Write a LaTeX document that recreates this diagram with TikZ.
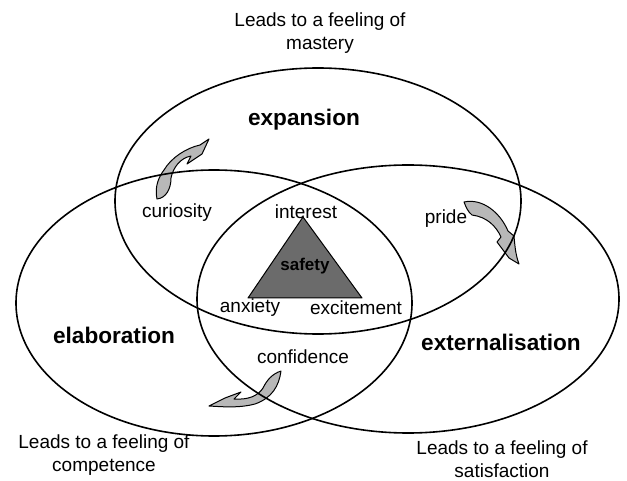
\documentclass[tikz,border=0pt]{standalone}
\usepackage{fontspec}
\setmainfont{Liberation Sans}
\usetikzlibrary{shapes.geometric}
\begin{document}
\begin{tikzpicture}[x=1pt,y=-1pt,
  ring/.style={draw=black,line width=1.6pt,ellipse,inner sep=0pt},
  lbl/.style={font=\fontsize{19}{23}\selectfont,inner sep=0pt,align=center},
  area/.style={font=\fontsize{22.6}{26}\selectfont\bfseries,inner sep=0pt},
  turnarrow/.style={draw=black,line width=1pt,fill=black!28,line join=round},
  core/.style={draw=black,line width=1pt,fill=black!58,line join=round}]
\useasboundingbox (0,0) rectangle (627,481);

% curved arrows between the three areas
\path[turnarrow] (157,199) .. controls (154,186) and (160,175) .. (164,170)
  .. controls (171,158) and (186,148) .. (200,145) -- (209,139) -- (202,154)
  -- (187,164) -- (191,156) .. controls (180,158) and (173,168) .. (171,178)
  .. controls (171,189) and (166,198) .. (157,199) -- cycle;
\path[turnarrow] (464,202) .. controls (482,198) and (500,212) .. (508,231)
  -- (514,236) .. controls (515,248) and (516,256) .. (519,264)
  -- (509,258) -- (497,242) -- (501,237)
  .. controls (496,226) and (487,217) .. (472,215)
  .. controls (468,212) and (466,207) .. (464,202) -- cycle;
\path[turnarrow] (281,371) .. controls (279,386) and (272,398) .. (255,404)
  .. controls (240,408) and (225,407) .. (209,406) -- (225,398) -- (241,392)
  -- (234,399) .. controls (248,400) and (258,396) .. (263,388)
  .. controls (267,380) and (272,374) .. (281,371) -- cycle;

% the three overlapping areas
\node[ring,minimum width=406pt,minimum height=266pt] (expE) at (318,201) {};
\node[ring,minimum width=396pt,minimum height=266pt] (elaE) at (214,303) {};
\node[ring,minimum width=422pt,minimum height=268pt] (extE) at (408,299) {};

% central triangle
\coordinate (tTop) at (303,217);
\coordinate (tLeft) at (248,298);
\coordinate (tRight) at (362,298);
\path[core] (tTop) -- (tLeft) -- (tRight) -- cycle;
\node[font=\fontsize{17}{20}\selectfont\bfseries,inner sep=0pt] (safety) at (305,266) {safety};

% labels
\node[lbl] (mastery) at (320,33) {Leads to a feeling of\\mastery};
\node[lbl] (competence) at (104,455) {Leads to a feeling of\\competence};
\node[lbl] (satisfaction) at (502,459) {Leads to a feeling of\\satisfaction};
\node[area] (expansion) at (304,120) {expansion};
\node[area] (elaboration) at (114,335) {elaboration};
\node[area] (externalisation) at (501,342) {externalisation};
\node[lbl] (curiosity) at (177,213) {curiosity};
\node[lbl] (interest) at (306,212) {interest};
\node[lbl] (pride) at (446,219) {pride};
\node[lbl] (anxiety) at (250,308) {anxiety};
\node[lbl] (excitement) at (356,308) {excitement};
\node[lbl] (confidence) at (303,357) {confidence};
\end{tikzpicture}
\end{document}
